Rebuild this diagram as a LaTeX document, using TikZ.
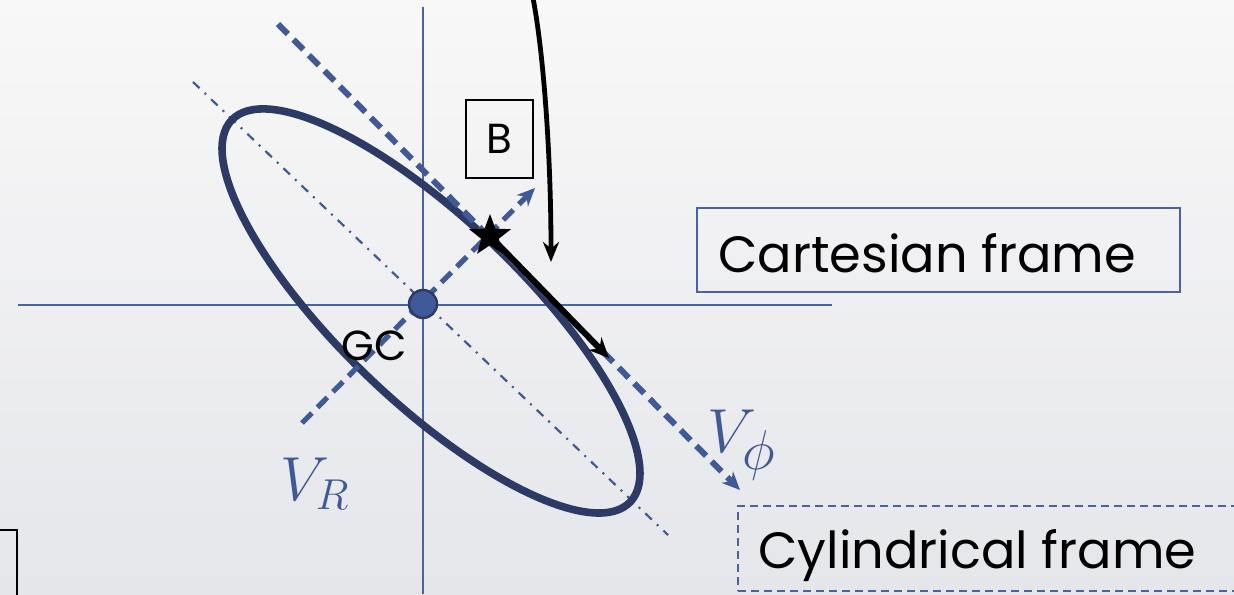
\documentclass[tikz,border=0pt]{standalone}
\usepackage{graphicx}
\usepackage{fontspec}
\setmainfont{Poppins}
\usetikzlibrary{arrows.meta,shapes.geometric}
\definecolor{axisblue}{HTML}{4A62A0}
\definecolor{navy}{HTML}{2C3A66}
\definecolor{dashblue}{HTML}{3F5A96}
\definecolor{bgtop}{HTML}{F8F8F8}
\definecolor{bgbot}{HTML}{E5E6EA}
\tikzset{
  axisline/.style={axisblue, line width=1pt},
  orbit/.style={navy, line width=3.8pt},
  dashdotline/.style={dashblue, line width=1.1pt, dash pattern=on 4.5pt off 3.5pt on 1pt off 3.5pt},
  vecdash/.style={dashblue, line width=3pt, dash pattern=on 7pt off 4pt, -{Stealth[length=9pt,width=8pt]}},
  blackvec/.style={black, line width=3pt, -{Stealth[length=10pt,width=9pt]}},
  framebox/.style={draw=axisblue, line width=1pt, minimum width=241.5pt, minimum height=42pt, inner sep=0pt},
  labeltext/.style={font=\fontsize{25.5}{30}\selectfont, text=black},
  smalltext/.style={font=\fontsize{21}{24}\selectfont, text=black},
  mathlab/.style={text=dashblue, font=\fontsize{20}{20}\selectfont, inner sep=0pt},
}
\begin{document}
\begin{tikzpicture}[x=0.5pt,y=-0.5pt]
\shade[top color=bgtop, bottom color=bgbot] (0,0) rectangle (1234,594);
\useasboundingbox (0,0) rectangle (1234,594);
% axes
\coordinate (vtop) at (423,7);
\coordinate (vbot) at (423,594);
\coordinate (hleft) at (18,305);
\coordinate (hright) at (832,305);
\draw[axisline] (vtop) -- (vbot);
\draw[axisline] (hleft) -- (hright);
% dash-dot major axis
\coordinate (ddA) at (193,82);
\coordinate (ddB) at (668,535);
\draw[dashdotline] (ddA) -- (ddB);
% orbit ellipse
\coordinate (ec) at (431,311);
\draw[orbit, rotate around={-43.8:(ec)}] (ec) ellipse [x radius=276, y radius=91];
% V_phi dashed line
\coordinate (phiA) at (278,24);
\coordinate (phiB) at (740,490);
\draw[vecdash] (phiA) -- (phiB);
% V_R dashed line
\coordinate (rA) at (302,423);
\coordinate (rB) at (535,188);
\draw[vecdash, line width=2.6pt] (rA) -- (rB);
% GC
\node[circle, fill=dashblue, draw=navy, line width=1.2pt, minimum size=14pt, inner sep=0pt] (gc) at (423,304) {};
\node[smalltext, anchor=base west, inner sep=0pt] (gclab) at (341,360) {GC};
% star and velocity
\node[star, star points=5, star point ratio=2.4, fill=black, minimum size=22pt, inner sep=0pt] (st) at (490,236) {};
\coordinate (vend) at (609,358);
\draw[blackvec] (st.center) -- (vend);
% curved arrow from top
\coordinate (ctop) at (533,-2);
\coordinate (cend) at (551,262);
\draw[black, line width=2.4pt, -{Stealth[length=10pt,width=8pt]}] (ctop) .. controls (543,50) and (551,150) .. (cend);
% B box
\node[draw=black, line width=0.8pt, minimum width=33.5pt, minimum height=39pt, inner sep=0pt, smalltext] (bbox) at (499.5,139) {B};
% Cartesian frame
\node[framebox] (cart) at (938.5,250) {};
\node[labeltext, anchor=base west, inner sep=0pt] (cartlab) at (718,272) {Cartesian frame};
% Cylindrical frame
\node[draw=axisblue, line width=1pt, dashed, dash pattern=on 4pt off 2.5pt, minimum width=260pt, minimum height=42.5pt, inner sep=0pt, anchor=north west] (cyl) at (737,505) {};
\node[labeltext, anchor=base west, inner sep=0pt] (cyllab) at (758,568) {Cylindrical frame};
% labels
\node[mathlab, anchor=base west] (vphi) at (707,452) {\scalebox{1.5}{$V_{\scalebox{1.3}{$\scriptstyle\phi$}}$}};
\node[mathlab, anchor=base west] (vr) at (280,500) {\scalebox{1.5}{$V_R$}};
% bottom-left box
\node[draw=black, line width=1pt, minimum width=40pt, minimum height=40pt, anchor=north east, inner sep=0pt] (blbox) at (18,529) {};
\end{tikzpicture}
\end{document}
